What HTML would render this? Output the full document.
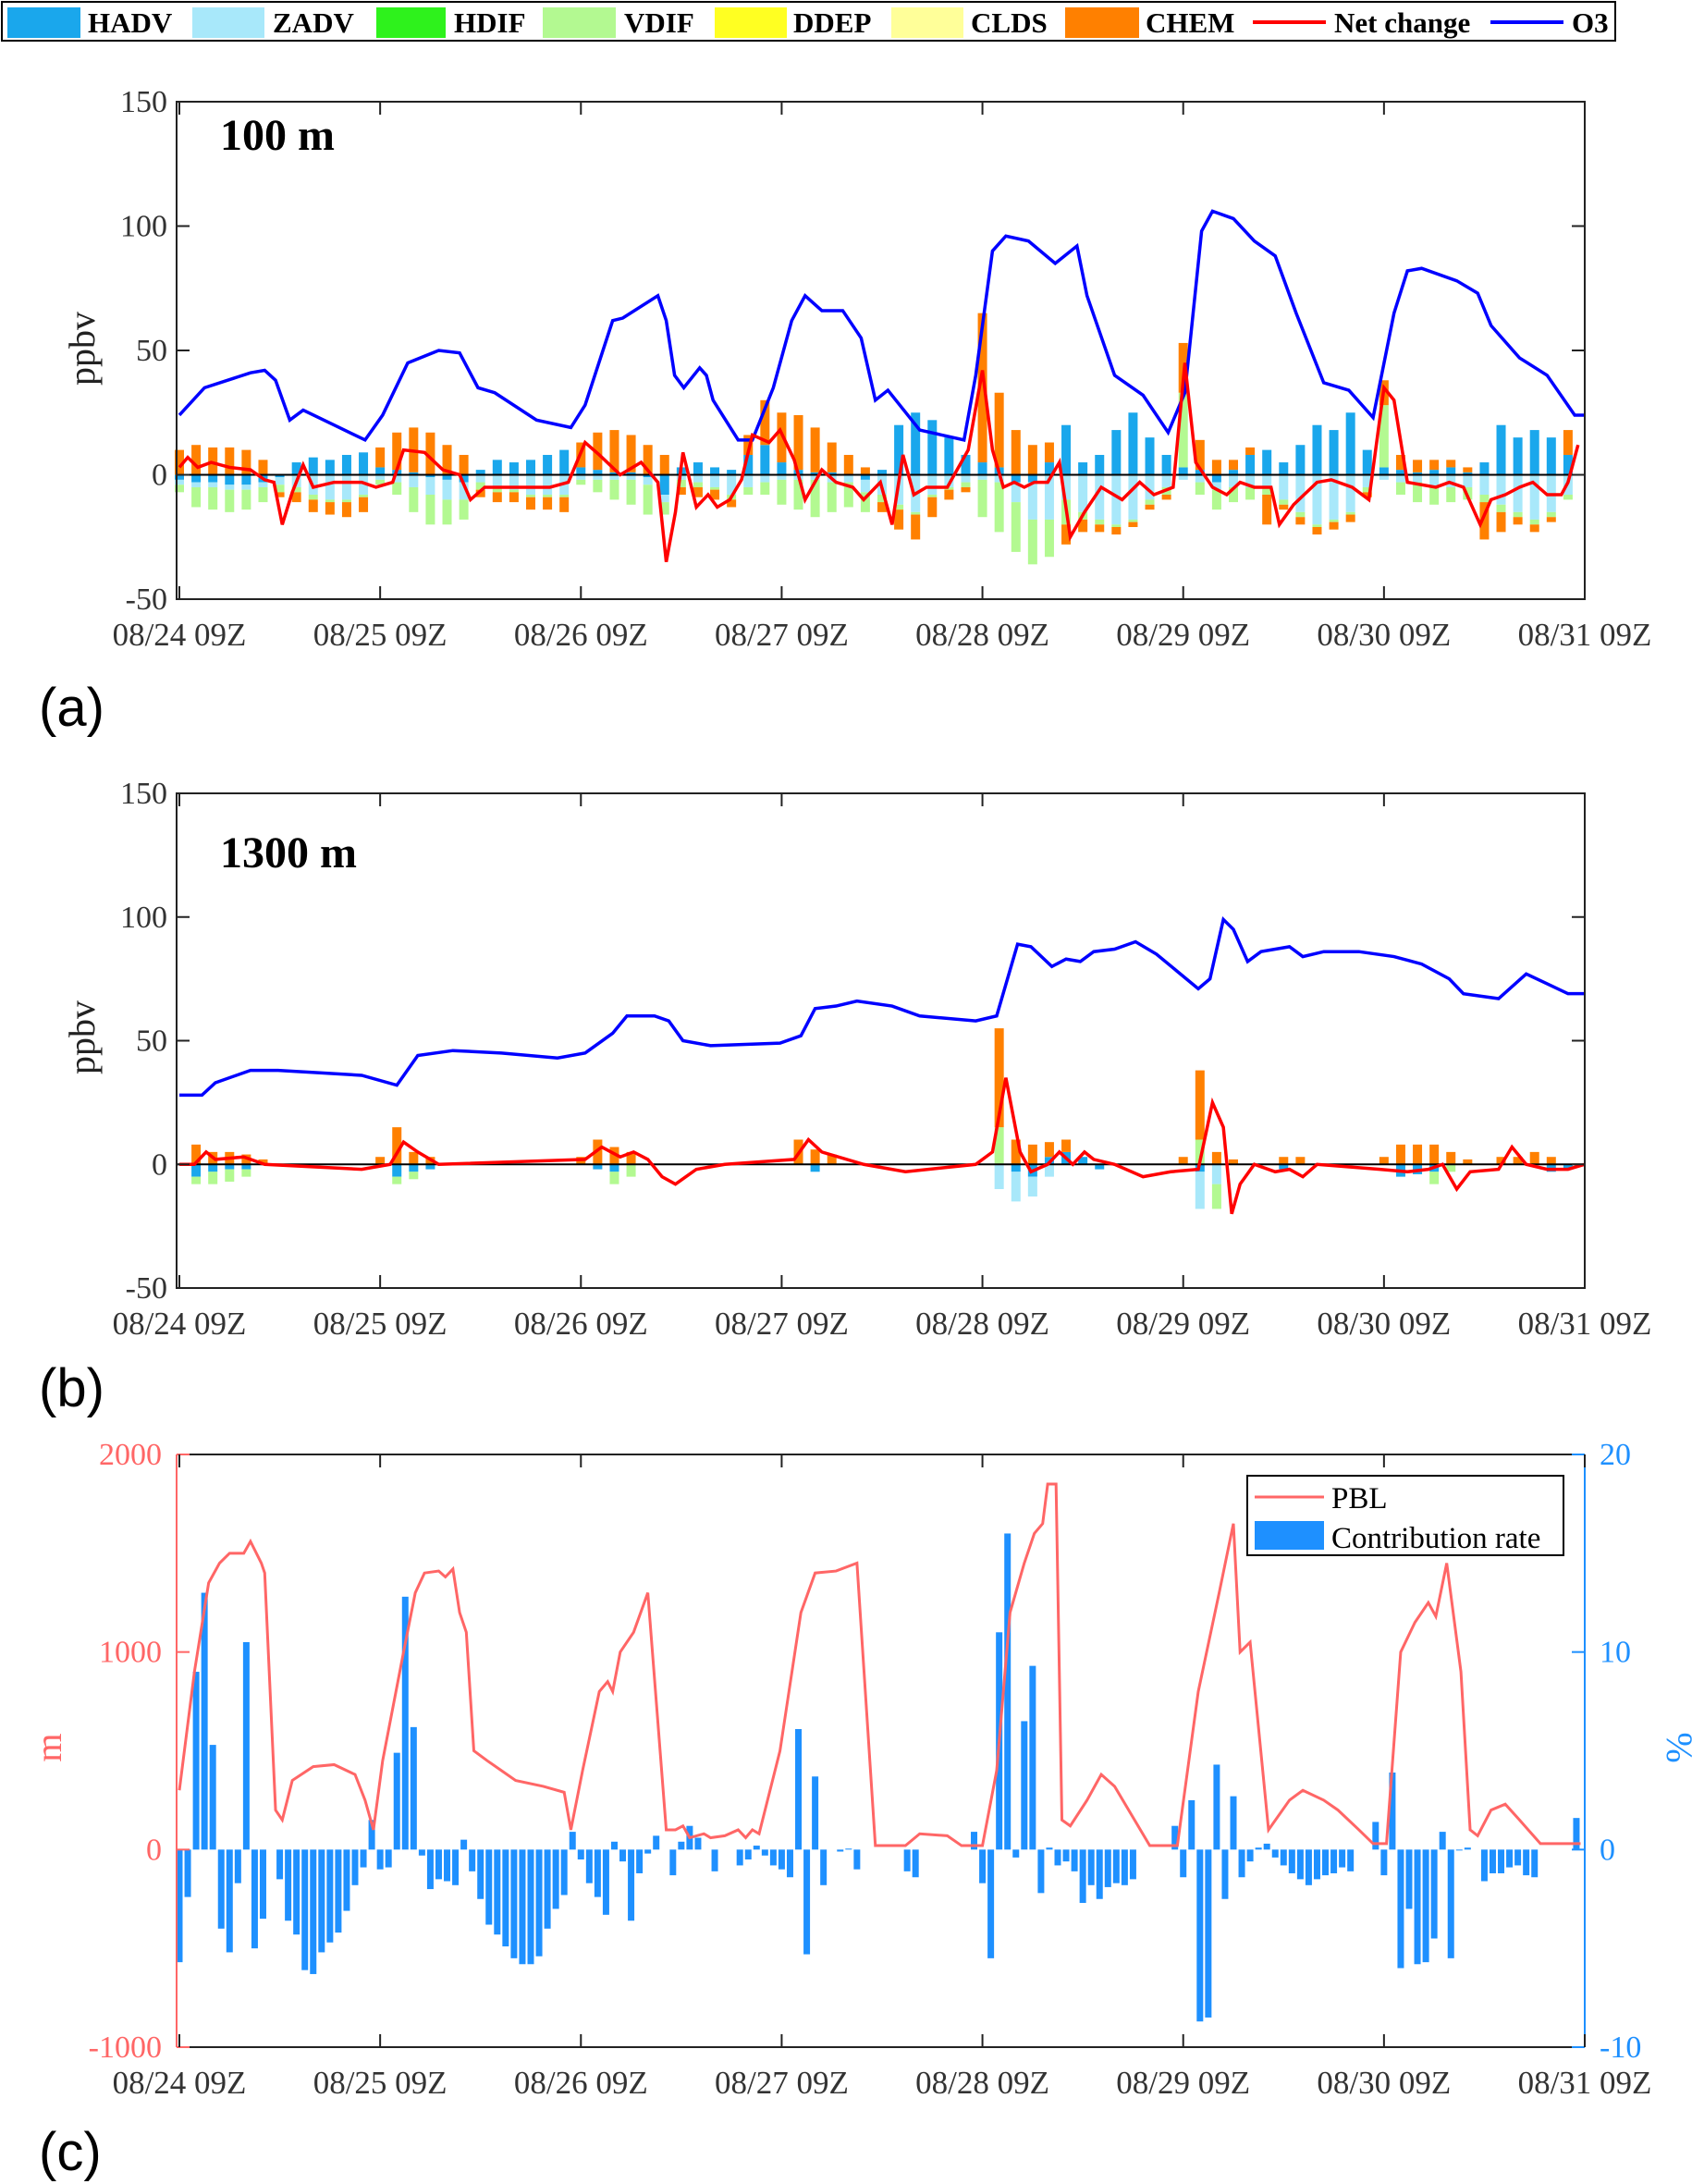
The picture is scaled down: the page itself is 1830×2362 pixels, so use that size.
<!DOCTYPE html>
<html><head><meta charset="utf-8"><style>
html,body{margin:0;padding:0;background:#fff;}
svg{display:block;}
text{font-family:"Liberation Serif",serif;}
</style></head><body>
<svg id="fig" width="1830" height="2362" viewBox="0 0 1830 2362" xmlns="http://www.w3.org/2000/svg">
<g>
<rect x="2" y="2" width="1745" height="42" fill="#fff" stroke="#000" stroke-width="2"/>
<rect x="8" y="8" width="79" height="33" fill="#1aa7ec"/><text x="95" y="35" font-size="31" font-weight="bold">HADV</text>
<rect x="208" y="8" width="78" height="33" fill="#a8e8fa"/><text x="295" y="35" font-size="31" font-weight="bold">ZADV</text>
<rect x="407" y="8" width="75" height="33" fill="#2ef21c"/><text x="491" y="35" font-size="31" font-weight="bold">HDIF</text>
<rect x="587" y="8" width="79" height="33" fill="#b3f991"/><text x="675" y="35" font-size="31" font-weight="bold">VDIF</text>
<rect x="773" y="8" width="78" height="33" fill="#ffff22"/><text x="858" y="35" font-size="31" font-weight="bold">DDEP</text>
<rect x="964" y="8" width="78" height="33" fill="#ffff99"/><text x="1050" y="35" font-size="31" font-weight="bold">CLDS</text>
<rect x="1152" y="8" width="80" height="33" fill="#ff8000"/><text x="1239" y="35" font-size="31" font-weight="bold">CHEM</text>
<line x1="1355" y1="24" x2="1434" y2="24" stroke="#ff0000" stroke-width="4"/><text x="1443" y="35" font-size="31" font-weight="bold">Net change</text>
<line x1="1612" y1="24" x2="1691" y2="24" stroke="#0000ff" stroke-width="4"/><text x="1700" y="35" font-size="31" font-weight="bold">O3</text>
</g>
<text x="42" y="785" font-size="58" style="font-family:'Liberation Sans',sans-serif">(a)</text>
<text x="42" y="1521" font-size="58" style="font-family:'Liberation Sans',sans-serif">(b)</text>
<text x="42" y="2347" font-size="58" style="font-family:'Liberation Sans',sans-serif">(c)</text>
</svg>
<script>
// ---------- data ----------
const dayLabels=["08/24 09Z","08/25 09Z","08/26 09Z","08/27 09Z","08/28 09Z","08/29 09Z","08/30 09Z","08/31 09Z"];
const ppbTicks=[-50,0,50,100,150];
const barHoursStep=2;
// panel a bars (2-hourly)
const aHADV=[-2,-3,-3,-4,-4,-3,-1,5,7,6,8,9,3,2,1,-1,-2,-3,2,6,5,6,8,10,3,2,1,1,-1,-8,3,5,3,2,8,12,5,2,1,1,0,-2,2,20,25,22,15,8,5,3,-3,-3,5,20,5,8,18,25,15,8,3,2,-3,2,8,10,5,12,20,18,25,10,3,2,1,2,3,1,5,20,15,18,15,8];
const aZADV=[-2,-2,-2,-2,-2,-2,-3,-5,-8,-10,-10,-8,-2,-3,-5,-7,-8,-7,-3,-5,-6,-8,-8,-8,-2,-2,-2,-2,-3,-3,-2,-3,-5,-8,-5,-3,-2,-2,-2,-3,-3,-5,-8,-12,-15,-8,-5,-3,-2,-3,-8,-15,-18,-10,-15,-18,-20,-18,-10,-5,-2,-3,-3,-5,-5,-5,-10,-15,-20,-18,-15,-5,-2,-3,-3,-5,-5,-5,-8,-12,-15,-18,-15,-8];
const aVDIF=[-3,-8,-9,-9,-8,-6,-3,-2,-2,-1,-1,-1,-2,-5,-10,-12,-10,-8,-3,-2,-1,-1,-1,-1,-2,-5,-8,-10,-12,-5,-3,-2,-1,-2,-3,-5,-10,-12,-15,-12,-10,-8,-3,-2,-1,-1,-1,-2,-15,-20,-20,-18,-15,-10,-3,-2,-1,-1,-2,-3,30,-5,-8,-6,-5,-3,-2,-2,-1,-1,-1,-2,25,-5,-8,-7,-6,-5,-3,-3,-2,-2,-2,-2];
const aCHEM=[10,12,11,11,10,6,-2,-4,-5,-5,-6,-6,8,15,18,17,12,8,-3,-4,-4,-5,-5,-6,10,15,17,15,12,8,-3,-4,-4,-3,8,18,20,22,18,12,8,3,-4,-8,-10,-8,-4,-2,60,30,18,12,8,-8,-5,-3,-3,-2,-2,-2,20,12,6,4,3,-12,-2,-3,-3,-3,-3,-2,10,6,5,4,3,2,-15,-8,-3,-3,-2,10];
const aO3Hours=[0,3,8.5,10.2,11.5,13.2,14.8,18.5,22.2,24.3,27.3,31,33.5,35.7,37.7,42.7,46.8,48.5,51.8,53,57.2,58.2,59.2,60.3,62.2,63,63.8,66.8,68.5,71,73.2,74.8,76.8,79.3,81.5,83.2,84.7,88.5,93.8,95.2,97.2,98.8,101.5,104.7,107.3,108.5,111.8,115.2,118.2,120.2,122.2,123.5,126,128.5,131,133.5,136.8,139.8,142.7,145.2,146.8,148.5,152.7,155.2,156.8,160.2,163.5,166.8,168];
const aO3=[24,35,41,42,38,22,26,20,14,24,45,50,49,35,33,22,19,28,62,63,72,62,40,35,43,40,30,14,14,35,62,72,66,66,55,30,34,18,14,40,90,96,94,85,92,72,40,32,17,33,98,106,103,94,88,65,37,34,23,65,82,83,78,73,60,47,40,24,24];
const aNetHours=[0,1,2.2,3.8,6,8.5,10.2,11.3,12.3,13.5,14.8,16,18.5,21.8,23.5,25.5,26.8,29.3,31.5,33.5,34.8,36.5,38.5,44.3,46.5,48.5,50.2,52.7,55.2,57.2,58.2,59.3,60.2,61.8,63.2,64.3,65.8,67.2,68.5,70.5,71.8,73.5,74.8,76.8,78.5,80.5,81.8,83.8,85.2,86.5,87.8,89.3,91.8,94.3,96,97.2,98.5,99.8,101,102.2,103.8,105.2,106.5,108.2,110.2,112.7,114.8,116.5,118.8,120.2,121.5,123.5,125.2,126.8,128.5,130.5,131.5,133.2,136,137.7,140.2,142.2,144,145.2,146.8,150.2,151.8,153.5,155.5,156.8,158.5,160.2,161.8,163.5,165.2,166,167.2];
const aNet=[3,7,3,5,3,2,-2,-3,-20,-7,4,-5,-3,-3,-5,-3,10,9,2,0,-10,-5,-5,-5,-3,13,8,0,5,-3,-35,-15,9,-13,-8,-13,-10,-2,16,13,18,6,-10,2,-3,-5,-10,-3,-20,8,-8,-5,-5,10,42,10,-5,-3,-5,-3,-3,5,-25,-15,-5,-10,-3,-8,-5,45,5,-5,-8,-3,-5,-5,-20,-12,-3,-2,-5,-10,35,30,-3,-5,-3,-5,-20,-10,-8,-5,-3,-8,-8,-3,12];
// panel b bars (2-hourly)
const bHADV=[0,-5,-3,-2,-2,0,0,0,0,0,0,0,0,-5,-3,-2,0,0,0,0,0,0,0,0,0,-2,-3,0,0,0,0,0,0,0,0,0,0,0,-3,0,0,0,0,0,0,0,0,0,0,0,-3,-5,3,5,3,-2,0,0,0,0,0,-3,0,0,0,0,-2,0,0,0,0,0,0,-5,-4,-3,0,0,0,0,0,0,-3,-2];
const bZADV=[0,0,0,0,0,0,0,0,0,0,0,0,0,0,0,0,0,0,0,0,0,0,0,0,0,0,0,0,0,0,0,0,0,0,0,0,0,0,0,0,0,0,0,0,0,0,0,0,0,-10,-12,-8,-5,0,0,0,0,0,0,0,0,-15,-8,0,0,0,0,0,0,0,0,0,0,0,0,0,0,0,0,0,0,0,0,0];
const bVDIF=[0,-3,-5,-5,-3,0,0,0,0,0,0,0,0,-3,-3,0,0,0,0,0,0,0,0,0,0,0,-5,-5,0,0,0,0,0,0,0,0,0,0,0,0,0,0,0,0,0,0,0,0,0,15,0,0,0,0,0,0,0,0,0,0,0,10,-10,0,0,0,0,0,0,0,0,0,0,0,0,-5,-3,0,0,0,0,0,0,0];
const bCHEM=[0,8,5,5,4,2,0,0,0,0,0,0,3,15,5,3,0,0,0,0,0,0,0,0,3,10,7,5,0,0,0,0,0,0,0,0,0,10,6,4,0,0,0,0,0,0,0,0,0,40,10,8,6,5,0,0,0,0,0,0,3,28,5,2,0,0,3,3,0,0,0,0,3,8,8,8,5,2,0,3,3,5,3,0];
const bO3Hours=[0,2.7,4.3,8.5,11.8,16.8,21.8,26,28.5,32.7,38.5,45.2,48.5,51.8,53.5,56.8,58.5,60.2,63.5,71.8,74.3,76,78.5,81,85.2,88.5,95.2,97.7,100.2,101.8,104.3,106,107.7,109.3,111.8,114.3,116.8,119.3,121.8,123.2,124.8,126,127.7,129.3,132.7,134.3,136.8,141,145.2,148.5,151.8,153.5,157.7,161,163.5,166,168];
const bO3=[28,28,33,38,38,37,36,32,44,46,45,43,45,53,60,60,58,50,48,49,52,63,64,66,64,60,58,60,89,88,80,83,82,86,87,90,85,78,71,75,99,95,82,86,88,84,86,86,84,81,75,69,67,77,73,69,69];
const bNetHours=[0,1.8,3.2,4.3,7.7,10.2,21.8,25.2,26.8,28.5,31,48.5,50.5,52.7,54.3,56,57.7,59.3,61.8,65.2,73.5,75.2,76.8,81.8,86.8,95.2,97.2,98.8,100.5,101.8,103.8,105.2,106.8,108.2,109.3,111.8,115.2,118.5,121.8,123.5,124.8,125.8,126.8,128.5,131,132.7,134.3,136,143.5,146.8,149.3,151,152.7,154.3,157.7,159.3,161,163.5,166,168];
const bNet=[0,0,5,2,3,0,-2,0,9,5,0,2,7,3,5,2,-5,-8,-2,0,2,10,5,0,-3,0,5,35,5,-3,0,5,0,5,2,0,-5,-3,-2,25,15,-20,-8,0,-3,-2,-5,0,-2,-3,-2,0,-10,-3,-2,7,0,-2,-2,0];
// panel c
const mTicks=[-1000,0,1000,2000];
const pctTicks=[-10,0,10,20];
const pblHours=[0,1.8,3.5,4.8,6,7.7,8.5,9.8,10.2,11.5,12.3,13.5,16,18.5,21,22.2,23.2,24.3,26.8,28.2,29.3,31,31.8,32.7,33.5,34.3,35.2,36.8,38.5,40.2,43.5,46,46.8,48.2,50.2,51.2,51.8,52.7,54.3,56,58.2,59.3,60.2,61,62.7,63.5,65.2,66.8,67.7,68.5,69.3,71.8,74.3,76,78.5,81,83.2,86.8,88.5,91.8,93.5,96,97.7,99.3,101,102.2,103.2,103.8,104.8,105.5,106.5,108.5,110.2,111.8,116,119.3,121.8,124.3,126,126.8,128,130.2,132.7,134.3,136.8,138.5,141,142.7,144.3,146,147.7,149.3,150.2,151.5,153.2,154.3,155.2,156.8,158.5,160.2,162.7,166.8,167.5];
const pbl=[300,900,1350,1450,1500,1500,1560,1450,1400,200,150,350,420,430,380,250,100,450,1000,1300,1400,1410,1380,1420,1200,1100,500,450,400,350,320,290,100,400,800,850,800,1000,1100,1300,100,100,120,60,80,60,70,100,60,100,80,500,1200,1400,1410,1450,20,20,80,70,20,20,400,1200,1450,1600,1650,1850,1850,150,120,250,380,320,20,20,800,1300,1650,1000,1050,100,250,300,250,200,100,30,30,1000,1150,1250,1180,1450,900,100,70,200,230,150,30,30,30];
const crHours=[0,1,2,3,4,5,6,7,8,9,10,12,13,14,15,16,17,18,19,20,21,22,23,24,25,26,27,28,29,30,31,32,33,34,35,36,37,38,39,40,41,42,43,44,45,46,47,48,49,50,51,52,53,54,55,56,57,59,60,61,62,64,67,68,69,70,71,72,73,74,75,76,77,79,80,81,87,88,95,96,97,98,99,100,101,102,103,104,105,106,107,108,109,110,111,112,113,114,119,120,121,122,123,124,125,126,127,128,129,130,131,132,133,134,135,136,137,138,139,140,143,144,145,146,147,148,149,150,151,152,153,154,156,157,158,159,160,161,162,167];
const crRate=[-5.7,-2.4,9.0,13.0,5.3,-4.0,-5.2,-1.7,10.5,-5.0,-3.5,-1.5,-3.6,-4.3,-6.1,-6.3,-5.2,-4.7,-4.2,-3.1,-1.8,-0.9,1.5,-1.0,-0.9,4.9,12.8,6.2,-0.3,-2.0,-1.5,-1.6,-1.8,0.5,-1.1,-2.5,-3.8,-4.3,-4.9,-5.5,-5.8,-5.8,-5.4,-4.0,-3.0,-2.3,0.9,-0.5,-1.7,-2.4,-3.3,0.4,-0.6,-3.6,-1.2,-0.2,0.7,-1.3,0.4,1.2,0.6,-1.1,-0.8,-0.5,0.2,-0.3,-0.8,-1.0,-1.4,6.1,-5.3,3.7,-1.8,-0.1,0.05,-1.0,-1.1,-1.4,0.9,-1.7,-5.5,11.0,16.0,-0.4,6.5,9.3,-2.2,0.1,-0.8,-0.6,-1.1,-2.7,-1.8,-2.5,-1.9,-1.7,-1.8,-1.5,1.2,-1.4,2.5,-8.7,-8.5,4.3,-2.5,2.7,-1.4,-0.6,0.1,0.3,-0.4,-0.8,-1.2,-1.5,-1.8,-1.5,-1.3,-1.2,-0.9,-1.1,1.4,-1.3,3.9,-6.0,-3.0,-5.8,-5.7,-4.5,0.9,-5.5,0.0,0.1,-1.6,-1.2,-1.2,-0.9,-0.8,-1.3,-1.4,1.6];

// ---------- drawing ----------
const NS="http://www.w3.org/2000/svg";
const svg=document.getElementById('fig');
const X0=191,X1=1714,H0=194,PXH=(1714-194)/168;
function xH(h){return H0+h*PXH;}
function mk(tag,attrs,parent){const e=document.createElementNS(NS,tag);for(const k in attrs)e.setAttribute(k,attrs[k]);(parent||svg).appendChild(e);return e;}
function txt(s,attrs,parent){const e=mk('text',attrs,parent);e.textContent=s;return e;}

function xAxis(g,top,bot,labY){
  dayLabels.forEach((d,i)=>{
    const x=xH(i*24);
    mk('line',{x1:x,y1:bot,x2:x,y2:bot-14,stroke:'#222','stroke-width':2},g);
    mk('line',{x1:x,y1:top,x2:x,y2:top+14,stroke:'#222','stroke-width':2},g);
    const t=txt(d,{x:x,y:labY,'font-size':35,'text-anchor':'middle',fill:'#333'},g);
    
    
  });
}

function stackPanel(name,top,bot,series,colors,o3h,o3,neth,net,title,titleY,ylabY){
  const g=mk('g',{});
  
  
  const yV=v=>bot-(v+50)*(bot-top)/200;
  const n=series[0].length;
  const bars=mk('g',{},g);
  
  
  for(let i=0;i<n;i++){
    let pos=0,neg=0;
    const x=xH(i*barHoursStep)-5;
    series.forEach((s,k)=>{
      const v=s[i]; if(!v) return;
      let y0,y1;
      if(v>0){y0=pos;y1=pos+v;pos=y1;}else{y0=neg;y1=neg+v;neg=y1;}
      const r=mk('rect',{x:x,y:Math.min(yV(y0),yV(y1)),width:10,height:Math.abs(yV(y0)-yV(y1)),fill:colors[k]},bars);
      
      
    });
  }
  const z=mk('line',{x1:X0,x2:X1,y1:yV(0),y2:yV(0),stroke:'#000','stroke-width':2},g);
  
  
  const o=mk('polyline',{points:o3h.map((h,i)=>xH(h)+','+yV(o3[i])).join(' '),fill:'none',stroke:'#0000ff','stroke-width':3.5},g);
  
  
  const nl=mk('polyline',{points:neth.map((h,i)=>xH(h)+','+yV(net[i])).join(' '),fill:'none',stroke:'#ff0000','stroke-width':3.5},g);
  
  
  const box=mk('rect',{x:X0,y:top,width:X1-X0,height:bot-top,fill:'none',stroke:'#222','stroke-width':2},g);
  
  
  ppbTicks.forEach(v=>{
    const y=yV(v);
    mk('line',{x1:X0,x2:X0+14,y1:y,y2:y,stroke:'#222','stroke-width':2},g);
    mk('line',{x1:X1,x2:X1-14,y1:y,y2:y,stroke:'#222','stroke-width':2},g);
    const t=txt(String(v),{x:X0-10,y:y+11,'font-size':34,'text-anchor':'end',fill:'#333'},g);
    
    
  });
  xAxis(g,top,bot,bot+50);
  const tt=txt(title,{x:238,y:titleY,'font-size':48,'font-weight':'bold'},g);
  
  
  const yl=txt('ppbv',{x:0,y:0,'font-size':40,'text-anchor':'middle',transform:'translate(102,'+ylabY+') rotate(-90)',fill:'#222'},g);
  
  
}
const cols=['#1aa7ec','#a8e8fa','#b3f991','#ff8000'];
stackPanel('panel-a-100m',110,648,[aHADV,aZADV,aVDIF,aCHEM],cols,aO3Hours,aO3,aNetHours,aNet,'100 m',162,377);
stackPanel('panel-b-1300m',858,1393,[bHADV,bZADV,bVDIF,bCHEM],cols,bO3Hours,bO3,bNetHours,bNet,'1300 m',938,1122);

// panel c
(function(){
  const top=1573,bot=2214;
  const g=mk('g',{});
  
  
  const yM=m=>bot-(m+1000)*(bot-top)/3000;
  const yP=p=>bot-(p+10)*(bot-top)/30;
  crHours.forEach((h,i)=>{
    const v=crRate[i];
    const r=mk('rect',{x:xH(h)-3.5,y:Math.min(yP(0),yP(v)),width:7,height:Math.max(1,Math.abs(yP(v)-yP(0))),fill:'#1e90ff'},g);
    
    
  });
  const l=mk('polyline',{points:pblHours.map((h,i)=>xH(h)+','+yM(pbl[i])).join(' '),fill:'none',stroke:'#ff6666','stroke-width':3},g);
  
  
  mk('line',{x1:X0,x2:X1,y1:top,y2:top,stroke:'#222','stroke-width':2},g);
  mk('line',{x1:X0,x2:X1,y1:bot,y2:bot,stroke:'#222','stroke-width':2},g);
  mk('line',{x1:X0,x2:X0,y1:top,y2:bot,stroke:'#ff6666','stroke-width':2},g);
  mk('line',{x1:X1,x2:X1,y1:top,y2:bot,stroke:'#1e90ff','stroke-width':2},g);
  mTicks.forEach(v=>{
    const y=yM(v);
    mk('line',{x1:X0,x2:X0+14,y1:y,y2:y,stroke:'#ff6666','stroke-width':2},g);
    const t=txt(String(v),{x:X0-16,y:y+11,'font-size':34,'text-anchor':'end',fill:'#ff6666'},g);
    
    
  });
  pctTicks.forEach(v=>{
    const y=yP(v);
    mk('line',{x1:X1,x2:X1-14,y1:y,y2:y,stroke:'#1e90ff','stroke-width':2},g);
    const t=txt(String(v),{x:X1+16,y:y+11,'font-size':34,'text-anchor':'start',fill:'#1e90ff'},g);
    
    
  });
  xAxis(g,top,bot,bot+50);
  const yl=txt('m',{x:0,y:0,'font-size':40,'text-anchor':'middle',transform:'translate(66,1890) rotate(-90)',fill:'#ff6666'},g);
  
  
  const yr=txt('%',{x:0,y:0,'font-size':40,'text-anchor':'middle',transform:'translate(1803,1890) rotate(90)',fill:'#1e90ff'},g);
  
  
  const lg=mk('g',{},g);
  
  
  mk('rect',{x:1349,y:1596,width:342,height:86,fill:'#fff',stroke:'#000','stroke-width':2},lg);
  mk('line',{x1:1357,x2:1432,y1:1619,y2:1619,stroke:'#ff6666','stroke-width':3},lg);
  txt('PBL',{x:1440,y:1631,'font-size':33},lg);
  mk('rect',{x:1357,y:1645,width:75,height:31,fill:'#1e90ff'},lg);
  txt('Contribution rate',{x:1440,y:1674,'font-size':33},lg);
})();
</script>
</body></html>
